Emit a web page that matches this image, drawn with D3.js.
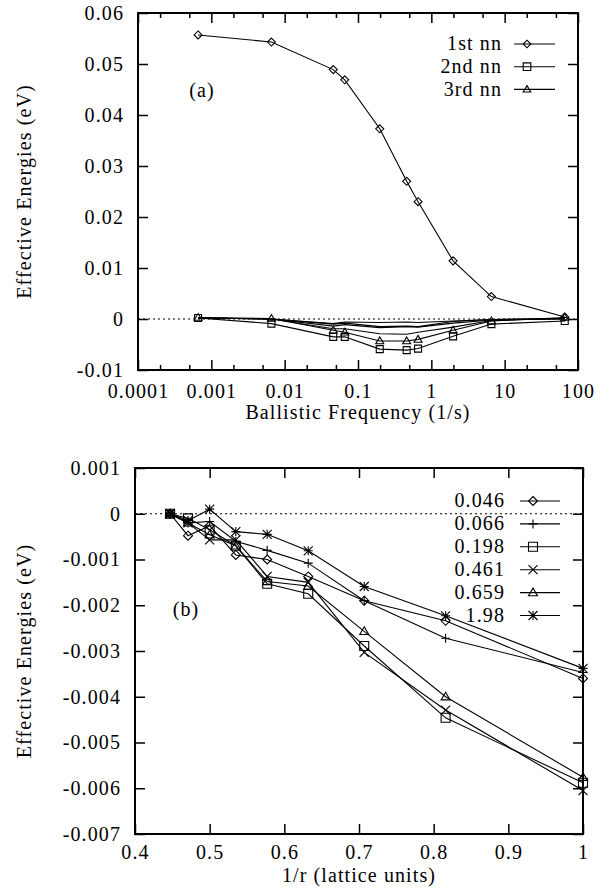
<!DOCTYPE html>
<html>
<head>
<meta charset="utf-8">
<script src="https://cdn.jsdelivr.net/npm/d3@7"></script>
<style>
  body { margin: 0; background: #fff; }
  svg text { font-family: "Liberation Serif", "Times New Roman", serif; font-size: 20px; letter-spacing: 1.1px; fill: #000; }
</style>
</head>
<body>
<svg id="chart" width="610" height="894"></svg>
<script>
// ---- panel (a): effective energies vs ballistic frequency ----
var freqA = [0.00066, 0.0066, 0.046, 0.066, 0.198, 0.461, 0.659, 1.98, 6.59, 65.9];
var nn1 = [0.0557, 0.0543, 0.0489, 0.0469, 0.0373, 0.0270, 0.0230, 0.0114, 0.0044, 0.0004];
var nn2 = [0.0002, -0.0009, -0.0035, -0.0035, -0.0059, -0.0061, -0.0058, -0.0034, -0.0010, -0.0004];
var nn3 = [0.0003, 0.0001, -0.0022, -0.0026, -0.0043, -0.0043, -0.0040, -0.0022, -0.0004, 0.0003];
// further shells, drawn as plain lines
var shell4 = [0.0002, 0.0000, -0.0019, -0.0019, -0.0029, -0.0030, -0.0026, -0.0016, -0.0003, 0.0001];
var shell5 = [0.0002, 0.0000, -0.0014, -0.0011, -0.0017, -0.0015, -0.0016, -0.0008, -0.0002, 0.0001];
var shell6 = [0.0002, 0.0000, -0.0010, -0.0008, -0.0015, -0.0014, -0.0015, -0.0005, -0.0001, 0.0001];
var shell7 = [0.0002, 0.0000, -0.0009, -0.0006, -0.0007, -0.0006, -0.0007, -0.0004, -0.0001, 0.0000];
var legendA = ["1st nn", "2nd nn", "3rd nn"];
var xTicksA = [0.0001, 0.001, 0.01, 0.1, 1, 10, 100];
var yTicksA = [-0.01, 0, 0.01, 0.02, 0.03, 0.04, 0.05, 0.06];

// ---- panel (b): effective energies vs 1/r ----
var invR = [0.447, 0.471, 0.5, 0.535, 0.577, 0.632, 0.707, 0.816, 1.0];
var f046 = [0, -0.00048, -0.00026, -0.0009, -0.0010, -0.00137, -0.0019, -0.00234, -0.0036];
var f066 = [0, -0.0002, -0.00017, -0.0006, -0.0008, -0.00108, -0.0019, -0.00272, -0.00347];
var f198 = [0, -0.0001, -0.00035, -0.0007, -0.00153, -0.00175, -0.00289, -0.00446, -0.00588];
var f461 = [0, -0.0002, -0.00057, -0.00057, -0.00137, -0.0015, -0.00303, -0.00429, -0.00605];
var f659 = [0, -0.0002, -0.00046, -0.0007, -0.00148, -0.00158, -0.00257, -0.0040, -0.00576];
var f198b = [0, -0.00015, 0.0001, -0.00039, -0.00045, -0.00081, -0.00159, -0.00223, -0.00338];
var legendB = ["0.046", "0.066", "0.198", "0.461", "0.659", "1.98"];
var xTicksB = [0.4, 0.5, 0.6, 0.7, 0.8, 0.9, 1];
var yTicksB = [-0.007, -0.006, -0.005, -0.004, -0.003, -0.002, -0.001, 0, 0.001];

var svg = d3.select("#chart");

// gnuplot-like point shapes, open outlines
function marker(type, s) {
    if (type == "diamond") return "M0," + (-s) + "L" + s + ",0L0," + s + "L" + (-s) + ",0Z";
    if (type == "square") return "M" + (-s) + "," + (-s) + "h" + (2 * s) + "v" + (2 * s) + "h" + (-2 * s) + "Z";
    if (type == "triangle") return "M0," + (-s) + "L" + s + "," + (s * 0.7) + "L" + (-s) + "," + (s * 0.7) + "Z";
    if (type == "plus") return "M" + (-s) + ",0H" + s + "M0," + (-s) + "V" + s;
    if (type == "cross") return "M" + (-s) + "," + (-s) + "L" + s + "," + s + "M" + (-s) + "," + s + "L" + s + "," + (-s);
    if (type == "star") return "M" + (-s) + ",0H" + s + "M0," + (-s) + "V" + s +
        "M" + (-s) + "," + (-s) + "L" + s + "," + s + "M" + (-s) + "," + s + "L" + s + "," + (-s);
    return "";
}

function fmt(d) { return String(+d.toFixed(4)); }

function drawFrame(g, x, y, majorX, minorX, yTicks, box, padX) {
    g.append("line")
        .attr("x1", box.left).attr("x2", box.right)
        .attr("y1", y(0)).attr("y2", y(0))
        .attr("stroke", "#000").attr("stroke-width", 1)
        .attr("stroke-dasharray", "2,3");

    g.append("g").attr("transform", "translate(0," + box.bottom + ")")
        .call(d3.axisBottom(x).tickValues(majorX).tickSize(-10).tickPadding(padX).tickFormat(fmt));
    g.append("g").attr("transform", "translate(0," + box.top + ")")
        .call(d3.axisTop(x).tickValues(majorX).tickSize(-10).tickFormat(""));
    if (minorX.length) {
        g.append("g").attr("transform", "translate(0," + box.bottom + ")")
            .call(d3.axisBottom(x).tickValues(minorX).tickSize(-5).tickFormat(""));
        g.append("g").attr("transform", "translate(0," + box.top + ")")
            .call(d3.axisTop(x).tickValues(minorX).tickSize(-5).tickFormat(""));
    }
    g.append("g").attr("transform", "translate(" + box.left + ",0)")
        .call(d3.axisLeft(y).tickValues(yTicks).tickSize(-10).tickPadding(14).tickFormat(fmt));
    g.append("g").attr("transform", "translate(" + box.right + ",0)")
        .call(d3.axisRight(y).tickValues(yTicks).tickSize(-10).tickFormat(""));

    g.selectAll(".domain").remove();
    g.selectAll(".tick line").attr("stroke", "#000").attr("stroke-width", 1.5);
    g.selectAll(".tick text").attr("font-family", null).attr("font-size", null);

    g.append("rect")
        .attr("x", box.left).attr("y", box.top)
        .attr("width", box.right - box.left).attr("height", box.bottom - box.top)
        .attr("fill", "none").attr("stroke", "#000").attr("stroke-width", 2);
}

function drawSeries(g, x, y, xs, ys, shape, size) {
    var pts = xs.map(function (v, i) { return [v, ys[i]]; });
    g.append("path")
        .attr("d", d3.line().x(function (d) { return x(d[0]); }).y(function (d) { return y(d[1]); })(pts))
        .attr("fill", "none").attr("stroke", "#000").attr("stroke-width", 1.1);
    if (shape) {
        g.selectAll(null).data(pts).enter().append("path")
            .attr("transform", function (d) { return "translate(" + x(d[0]) + "," + y(d[1]) + ")"; })
            .attr("d", marker(shape, size))
            .attr("fill", "none").attr("stroke", "#000").attr("stroke-width", 1.1);
    }
}

function drawLegend(g, labels, shapes, size, textX, lineX1, lineX2, markX, y0, dy) {
    labels.forEach(function (lab, i) {
        var yy = y0 + i * dy;
        g.append("text").attr("x", textX).attr("y", yy).attr("dy", "0.32em")
            .attr("text-anchor", "end").text(lab);
        g.append("line").attr("x1", lineX1).attr("x2", lineX2).attr("y1", yy).attr("y2", yy)
            .attr("stroke", "#000").attr("stroke-width", 1.1);
        g.append("path").attr("transform", "translate(" + markX + "," + yy + ")")
            .attr("d", marker(shapes[i], size))
            .attr("fill", "none").attr("stroke", "#000").attr("stroke-width", 1.1);
    });
}

// ---------- panel (a) ----------
var boxA = { left: 138, right: 578, top: 13, bottom: 370 };
var xA = d3.scaleLog().domain([1e-4, 100]).range([boxA.left, boxA.right]);
var yA = d3.scaleLinear().domain([-0.01, 0.06]).range([boxA.bottom, boxA.top]);
var minorA = [];
xTicksA.slice(0, -1).forEach(function (d) { minorA.push(d * 2, d * 5); });

var gA = svg.append("g");
drawFrame(gA, xA, yA, xTicksA, minorA, yTicksA, boxA, 14);
[shell7, shell6, shell5, shell4].forEach(function (s) { drawSeries(gA, xA, yA, freqA, s, null, 0); });
drawSeries(gA, xA, yA, freqA, nn3, "triangle", 4);
drawSeries(gA, xA, yA, freqA, nn2, "square", 3.5);
drawSeries(gA, xA, yA, freqA, nn1, "diamond", 4);
drawLegend(gA, legendA, ["diamond", "square", "triangle"], 3.8, 502, 514, 555, 527, 44, 22.7);
gA.append("text").attr("x", 202).attr("y", 97).attr("text-anchor", "middle").text("(a)");
gA.append("text").attr("x", (boxA.left + boxA.right) / 2).attr("y", 419)
    .attr("text-anchor", "middle").text("Ballistic Frequency (1/s)");
gA.append("text").attr("transform", "translate(31," + ((boxA.top + boxA.bottom) / 2) + ") rotate(-90)")
    .attr("text-anchor", "middle").text("Effective Energies (eV)");

// ---------- panel (b) ----------
var boxB = { left: 135, right: 583, top: 468, bottom: 834 };
var xB = d3.scaleLinear().domain([0.4, 1]).range([boxB.left, boxB.right]);
var yB = d3.scaleLinear().domain([-0.007, 0.001]).range([boxB.bottom, boxB.top]);

var gB = svg.append("g");
drawFrame(gB, xB, yB, xTicksB, [], yTicksB, boxB, 11);
var seriesB = [f046, f066, f198, f461, f659, f198b];
var shapesB = ["diamond", "plus", "square", "cross", "triangle", "star"];
seriesB.forEach(function (s, i) { drawSeries(gB, xB, yB, invR, s, shapesB[i], 4.5); });
drawLegend(gB, legendB, shapesB, 4.5, 505, 520, 560, 533, 501, 22.9);
gB.append("text").attr("x", 186).attr("y", 616).attr("text-anchor", "middle").text("(b)");
gB.append("text").attr("x", (boxB.left + boxB.right) / 2).attr("y", 882)
    .attr("text-anchor", "middle").text("1/r (lattice units)");
gB.append("text").attr("transform", "translate(31," + ((boxB.top + boxB.bottom) / 2) + ") rotate(-90)")
    .attr("text-anchor", "middle").text("Effective Energies (eV)");
</script>
</body>
</html>
